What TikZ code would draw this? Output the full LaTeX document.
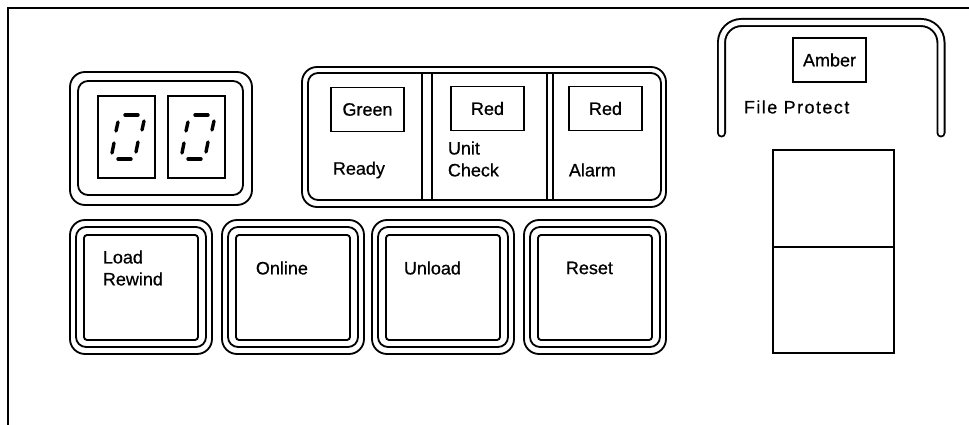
\documentclass[tikz,border=0pt]{standalone}
\usepackage{fontspec}
\setmainfont{Liberation Sans}
\newfontfamily\panelfont{Liberation Sans}[FakeBold=0.6]
\usepackage{tikz}

\begin{document}
\begin{tikzpicture}[x=0.025cm,y=-0.025cm,line width=1.3pt,
  lbl/.style={font=\panelfont\fontsize{12.8}{15.6}\selectfont, inner sep=0pt},
  lamp/.style={draw, minimum width=1.825cm, minimum height=1.1cm, inner sep=0pt, font=\panelfont\fontsize{12.8}{15.6}\selectfont},
  seg/.style={line width=2.4pt, line cap=round}]
  \useasboundingbox (0,0) rectangle (969,425);
  % panel edge
  \draw (969,8) -- (8,8) -- (8,425);

  % counter display
  \draw[rounded corners=0.375cm] (70,72) rectangle (252,205);
  \draw[rounded corners=0.25cm] (78,81) rectangle (243,195);
  \foreach \dx in {0,70} {
    \draw (98+\dx,96) rectangle (155+\dx,178);
    \draw[seg] (125+\dx,115) -- (138+\dx,115);
    \draw[seg] (118+\dx,122) -- (116+\dx,131);
    \draw[seg] (144+\dx,121) -- (142+\dx,130);
    \draw[seg] (114+\dx,143) -- (112+\dx,153);
    \draw[seg] (138+\dx,142) -- (136+\dx,152);
    \draw[seg] (118+\dx,159) -- (131+\dx,159);
  }

  % indicators
  \draw[rounded corners=0.375cm] (302,67) rectangle (666,207);
  \draw[rounded corners=0.25cm] (308,73) rectangle (661,200);
  \foreach \x in {422,432,547,553} {
    \draw (\x,73) -- (\x,200);
  }
  \node[lamp] (greenlamp) at (367.5,109.5) {Green};
  \node[lamp] (checklamp) at (487.5,108.5) {Red};
  \node[lamp] (alarmlamp) at (605.5,108.5) {Red};
  \node[lbl, anchor=west] (ready) at (332,170) {Ready};
  \node[lbl, anchor=west, align=left] (unitcheck) at (447,159) {Unit\\Check};
  \node[lbl, anchor=west] (alarm) at (568,170) {Alarm};

  % keys
  \foreach \xl/\dx/\name/\txt in {70/32/loadkey/{Load\\Rewind},222/33/onlinekey/Online,372/31/unloadkey/Unload,524/41/resetkey/Reset} {
    \draw[rounded corners=0.375cm] (\xl,220) rectangle ++(142,134);
    \draw[rounded corners=0.25cm] (\xl+6,227) rectangle ++(130,120);
    \draw[rounded corners=0.075cm] (\xl+14,235) rectangle ++(114,105);
    \node[lbl, anchor=west, align=left] (\name) at (\xl+\dx,268) {\txt};
  }

  % file protect
  \draw[double, double distance=3.6pt, line width=1.4pt, line cap=round, rounded corners=0.5cm]
    (721.5,133) -- (721.5,22.5) -- (941,22.5) -- (941,133);
  \node[lamp] (amberlamp) at (829.5,60) {Amber};
  \node[lbl, anchor=west] (fileprot) at (743,107) {\addfontfeature{LetterSpace=8}File Protect};
  \draw (773,150) rectangle (894,353);
  \draw (773,247) -- (894,247);
\end{tikzpicture}
\end{document}
